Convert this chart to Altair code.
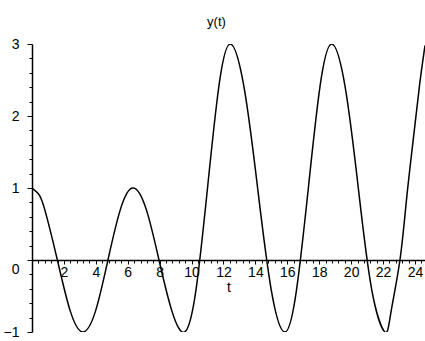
import altair as alt
import pandas as pd

# values
t_vals = [0.0, 0.4, 0.8, 1.59, 2.4, 3.19, 3.98, 4.76, 5.55, 6.33, 7.15, 7.96, 8.77, 9.57,
          10.28, 11.0, 11.71, 12.42, 13.28, 14.14, 14.99, 15.85,
          16.58, 17.32, 18.05, 18.78, 19.62, 20.45, 21.29, 22.12,
          22.5, 23.06, 23.5, 23.96, 24.3, 24.63]
y_vals = [1.0, 0.92, 0.7, 0.0, -0.71, -1.0, -0.71, 0.0, 0.71, 1.0, 0.71, 0.0, -0.71, -1.0,
          -0.41, 1.0, 2.41, 3.0, 2.41, 1.0, -0.41, -1.0,
          -0.41, 1.0, 2.41, 3.0, 2.41, 1.0, -0.41, -1.0,
          -0.72, 0.0, 0.9, 1.8, 2.45, 2.98]

x_ticks = [round(i * 0.4, 1) for i in range(0, 62)]
y_ticks = [round(-1 + i * 0.2, 1) for i in range(0, 21)]

df = pd.DataFrame({"t": t_vals, "y": y_vals})

FONT = "Liberation Sans"

x_axis = alt.Axis(
    orient="bottom", offset=-72, values=x_ticks,
    labelExpr="(abs(datum.value - round(datum.value/2)*2) < 1e-6 && datum.value > 0) ? format(datum.value, 'd') : ''",
    tickSize={"condition": {"test": "abs(datum.value - round(datum.value/2)*2) < 1e-6", "value": 4}, "value": 3},
    tickColor="black", tickWidth=1, domainColor="black", domainWidth=1.5,
    labelFont=FONT, labelFontSize=14, labelColor="black", labelPadding=1,
    labelOverlap=False, labelFlush=False,
    title="t", titleFont=FONT, titleFontSize=14, titleFontWeight="normal",
    titleColor="black", titlePadding=1, grid=False,
)

y_axis = alt.Axis(
    orient="left", values=y_ticks,
    labelExpr="abs(datum.value - round(datum.value)) < 1e-6 ? format(datum.value, 'd') : ''",
    tickSize={"condition": {"test": "abs(datum.value - round(datum.value)) < 1e-6", "value": 5}, "value": 3},
    labelOffset={"condition": {"test": "abs(datum.value) < 1e-6", "value": 9}, "value": 0},
    tickColor="black", tickWidth=1, domainColor="black", domainWidth=1.5,
    labelFont=FONT, labelFontSize=14, labelColor="black", labelPadding=8,
    labelOverlap=False, labelFlush=False, title=None, grid=False,
)

chart = alt.Chart(df).mark_line(
    color="black", strokeWidth=1.5, interpolate="natural", clip=True
).encode(
    x=alt.X("t:Q", scale=alt.Scale(domain=[0, 24.63], nice=False, zero=False), axis=x_axis),
    y=alt.Y("y:Q", scale=alt.Scale(domain=[-1, 3], nice=False, zero=False), axis=y_axis),
).properties(
    width=393, height=288,
    autosize="none",
    padding={"left": 32, "top": 44, "right": 0, "bottom": 9},
    title=alt.TitleParams(text="y(t)", font=FONT, fontSize=13, fontWeight="normal",
                          color="black", anchor="middle", dx=-12, offset=8),
    background="white",
).configure_view(stroke=None)

chart.save("out.html", embed_options={"renderer": "svg", "actions": False})
